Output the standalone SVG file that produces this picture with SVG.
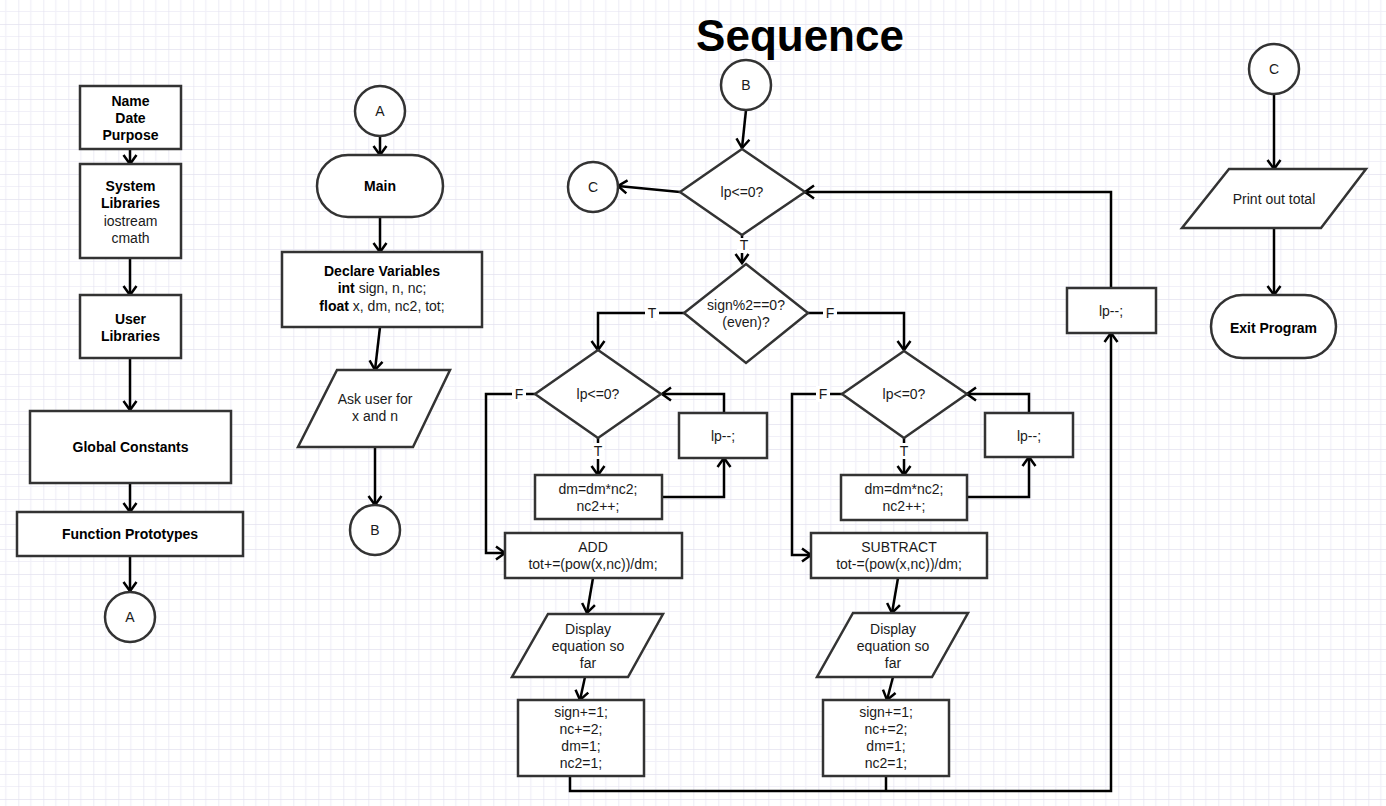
<svg xmlns="http://www.w3.org/2000/svg" width="1386" height="806" viewBox="0 0 1386 806">
<defs>
<pattern id="grid" patternUnits="userSpaceOnUse" x="18.3" y="24" width="25" height="25">
<rect width="25" height="25" fill="#ffffff"/>
<path d="M12.5,0 V25 M0,12.5 H25" stroke="#f1f0f8" stroke-width="1.2"/>
<path d="M0,0 V25 M0,0 H25" stroke="#e4e2f0" stroke-width="1.3"/>
</pattern>
<marker id="arr" markerUnits="userSpaceOnUse" markerWidth="16" markerHeight="16" refX="11" refY="8" orient="auto">
<path d="M2,1.5 L11,8 L2,14.5" fill="none" stroke="#000" stroke-width="2.5"/>
</marker>
<style>
.s{fill:#fff;stroke:#333;stroke-width:2.5}
.c{fill:none;stroke:#000;stroke-width:2.5}
.a{marker-end:url(#arr)}
text{font-family:"Liberation Sans",Arial,sans-serif;font-size:14px;text-anchor:middle;fill:#1a1a1a}
.b{font-weight:bold;fill:#000}
.lb{fill:#fff;stroke:none}
</style>
</defs>
<rect width="1386" height="806" fill="url(#grid)"/>

<text x="800" y="51" class="b" style="font-size:44px">Sequence</text>

<g id="connectors">
<path class="c a" d="M130,149 V164"/>
<path class="c a" d="M130,258 V295"/>
<path class="c a" d="M130,358 V410"/>
<path class="c a" d="M130,483 V512"/>
<path class="c a" d="M130,556 V591"/>
<path class="c a" d="M380,136 V155"/>
<path class="c a" d="M380,217 V252"/>
<path class="c a" d="M380,327 L375,370"/>
<path class="c a" d="M375,447 V505"/>
<path class="c a" d="M746,110 L742,148"/>
<path class="c a" d="M680,192 L618,186"/>
<path class="c a" d="M742,235 V263"/>
<path class="c a" d="M684,313 H598 V350"/>
<path class="c a" d="M808,313 H904 V350"/>
<path class="c a" d="M535,394 H486 V553 H505"/>
<path class="c a" d="M598,438 V475"/>
<path class="c a" d="M662,497 H724 V458"/>
<path class="c a" d="M724,413 V394 H662"/>
<path class="c a" d="M593,578 L587,613"/>
<path class="c a" d="M585,677 L580,700"/>
<path class="c a" d="M842,394 H792 V555 H811"/>
<path class="c a" d="M904,438 V475"/>
<path class="c a" d="M967,497 H1029 V457"/>
<path class="c a" d="M1029,413 V394 H967"/>
<path class="c a" d="M898,578 L892,613"/>
<path class="c a" d="M893,677 L887,700"/>
<path class="c a" d="M570,776 V791 H1111 V333"/>
<path class="c" d="M886,776 V791"/>
<path class="c a" d="M1111,288 V192 H805"/>
<path class="c a" d="M1274,94 V169"/>
<path class="c a" d="M1274,228 V295"/>
<rect class="lb" x="737" y="238" width="12" height="15"/>
<text x="744" y="250">T</text>
<rect class="lb" x="645" y="305" width="14" height="16"/>
<text x="652" y="318">T</text>
<rect class="lb" x="823" y="305" width="14" height="16"/>
<text x="830" y="318">F</text>
<rect class="lb" x="512" y="386" width="14" height="16"/>
<text x="519" y="399">F</text>
<rect class="lb" x="816" y="386" width="14" height="16"/>
<text x="823" y="399">F</text>
<rect class="lb" x="592" y="443" width="12" height="16"/>
<text x="598" y="456">T</text>
<rect class="lb" x="898" y="443" width="12" height="16"/>
<text x="904" y="456">T</text>
</g>

<g id="n-header">
<rect class="s" x="80" y="86" width="101" height="63"/>
<text x="130.5" y="106" class="b">Name</text>
<text x="130.5" y="123" class="b">Date</text>
<text x="130.5" y="140" class="b">Purpose</text>
</g>
<g id="n-syslib">
<rect class="s" x="80" y="164" width="101" height="94"/>
<text x="130.5" y="191" class="b">System</text>
<text x="130.5" y="208" class="b">Libraries</text>
<text x="130.5" y="226">iostream</text>
<text x="130.5" y="243">cmath</text>
</g>
<g id="n-userlib">
<rect class="s" x="80" y="295" width="101" height="63"/>
<text x="130.5" y="324" class="b">User</text>
<text x="130.5" y="341" class="b">Libraries</text>
</g>
<g id="n-global">
<rect class="s" x="30" y="411" width="201" height="72"/>
<text x="130.5" y="452" class="b">Global Constants</text>
</g>
<g id="n-proto">
<rect class="s" x="17" y="512" width="226" height="44"/>
<text x="130" y="539" class="b">Function Prototypes</text>
</g>
<g id="n-a1">
<circle class="s" cx="130" cy="617" r="25"/>
<text x="130" y="622">A</text>
</g>

<g id="n-a2">
<circle class="s" cx="380" cy="111" r="25"/>
<text x="380" y="116">A</text>
</g>
<g id="n-main">
<rect class="s" x="317" y="155" width="126" height="62" rx="31" ry="31"/>
<text x="380" y="191" class="b">Main</text>
</g>
<g id="n-declare">
<rect class="s" x="282" y="252" width="200" height="75"/>
<text x="382" y="276" class="b">Declare Variables</text>
<text x="382" y="293"><tspan class="b">int</tspan> sign, n, nc;</text>
<text x="382" y="311"><tspan class="b">float</tspan> x, dm, nc2, tot;</text>
</g>
<g id="n-ask">
<polygon class="s" points="337,370 450,370 413,447 298,447"/>
<text x="375" y="404">Ask user for</text>
<text x="375" y="421">x and n</text>
</g>
<g id="n-b1">
<circle class="s" cx="375" cy="530" r="25"/>
<text x="375" y="535">B</text>
</g>

<g id="n-b2">
<circle class="s" cx="746" cy="85" r="25"/>
<text x="746" y="90">B</text>
</g>
<g id="n-c1">
<circle class="s" cx="593" cy="187" r="25"/>
<text x="593" y="192">C</text>
</g>
<g id="n-loop">
<polygon class="s" points="742,149 805,192 742,235 680,192"/>
<text x="742" y="197">lp&lt;=0?</text>
</g>
<g id="n-sign">
<polygon class="s" points="746,264 808,313 746,363 684,313"/>
<text x="746" y="310">sign%2==0?</text>
<text x="746" y="327">(even)?</text>
</g>

<g id="n-loopL">
<polygon class="s" points="598,350 661,394 598,438 535,394"/>
<text x="598" y="399">lp&lt;=0?</text>
</g>
<g id="n-dmL">
<rect class="s" x="535" y="475" width="127" height="44"/>
<text x="598" y="494">dm=dm*nc2;</text>
<text x="598" y="511">nc2++;</text>
</g>
<g id="n-decL">
<rect class="s" x="679" y="413" width="88" height="45"/>
<text x="723" y="441">lp--;</text>
</g>
<g id="n-add">
<rect class="s" x="505" y="533" width="177" height="45"/>
<text x="593" y="552">ADD</text>
<text x="593" y="569">tot+=(pow(x,nc))/dm;</text>
</g>
<g id="n-dispL">
<polygon class="s" points="548,614 663,614 628,677 512,677"/>
<text x="588" y="634">Display</text>
<text x="588" y="651">equation so</text>
<text x="588" y="668">far</text>
</g>
<g id="n-updL">
<rect class="s" x="518" y="700" width="126" height="76"/>
<text x="581" y="717">sign+=1;</text>
<text x="581" y="734">nc+=2;</text>
<text x="581" y="751">dm=1;</text>
<text x="581" y="768">nc2=1;</text>
</g>

<g id="n-loopR">
<polygon class="s" points="904,351 967,394 904,438 842,394"/>
<text x="904" y="399">lp&lt;=0?</text>
</g>
<g id="n-dmR">
<rect class="s" x="841" y="475" width="126" height="45"/>
<text x="904" y="494">dm=dm*nc2;</text>
<text x="904" y="511">nc2++;</text>
</g>
<g id="n-decR">
<rect class="s" x="985" y="413" width="88" height="44"/>
<text x="1029" y="441">lp--;</text>
</g>
<g id="n-sub">
<rect class="s" x="811" y="533" width="176" height="45"/>
<text x="899" y="552">SUBTRACT</text>
<text x="899" y="569">tot-=(pow(x,nc))/dm;</text>
</g>
<g id="n-dispR">
<polygon class="s" points="853,613 968,613 932,677 817,677"/>
<text x="893" y="634">Display</text>
<text x="893" y="651">equation so</text>
<text x="893" y="668">far</text>
</g>
<g id="n-updR">
<rect class="s" x="823" y="700" width="126" height="76"/>
<text x="886" y="717">sign+=1;</text>
<text x="886" y="734">nc+=2;</text>
<text x="886" y="751">dm=1;</text>
<text x="886" y="768">nc2=1;</text>
</g>
<g id="n-decMain">
<rect class="s" x="1067" y="288" width="89" height="45"/>
<text x="1111" y="316">lp--;</text>
</g>

<g id="n-c2">
<circle class="s" cx="1274" cy="69" r="25"/>
<text x="1274" y="74">C</text>
</g>
<g id="n-print">
<polygon class="s" points="1229,169 1366,169 1321,228 1182,228"/>
<text x="1274" y="204">Print out total</text>
</g>
<g id="n-exit">
<rect class="s" x="1211" y="295" width="125" height="63" rx="31.5" ry="31.5"/>
<text x="1273.5" y="333" class="b">Exit Program</text>
</g>
</svg>
